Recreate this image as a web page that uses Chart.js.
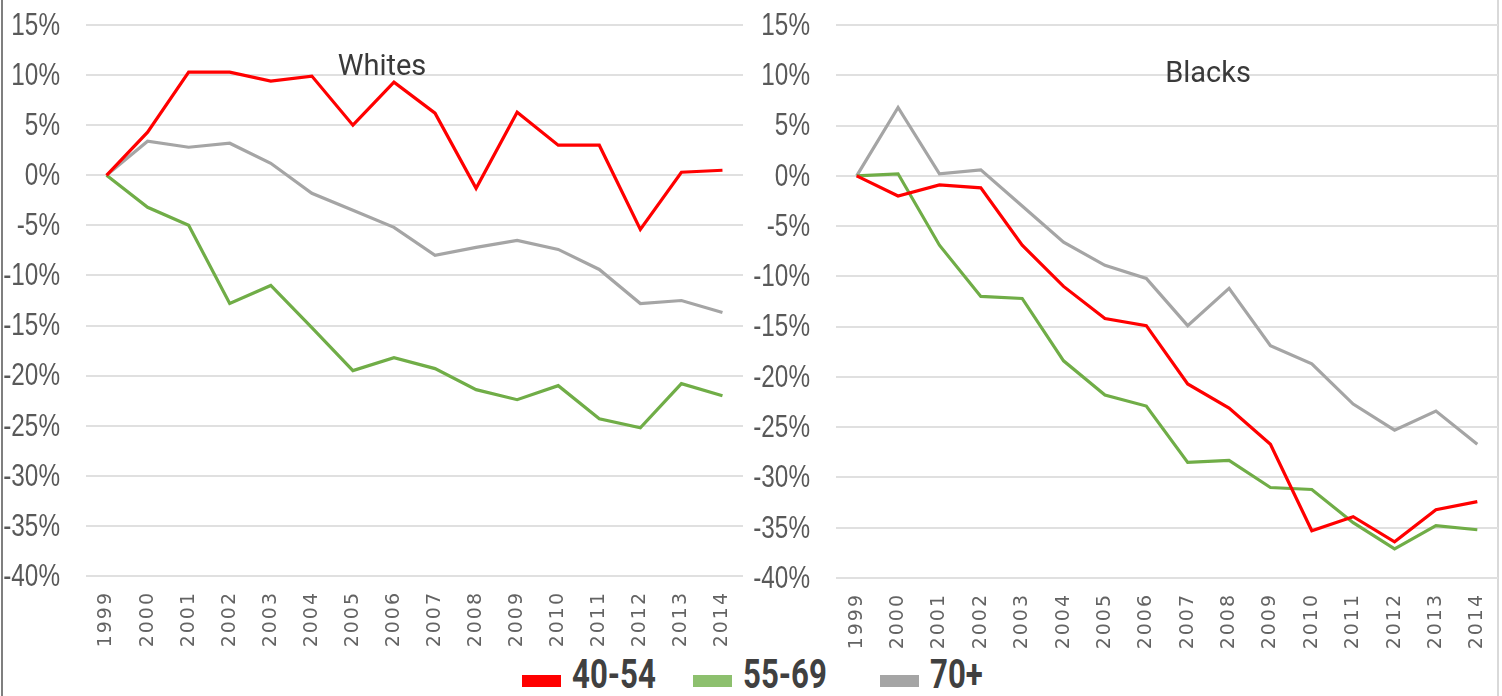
<!DOCTYPE html>
<html>
<head>
<meta charset="utf-8">
<script src="https://cdn.jsdelivr.net/npm/chart.js@4/dist/chart.umd.min.js"></script>
<style>
  body { margin: 0; background: #fff; }
  #page { position: relative; width: 1502px; height: 696px; overflow: hidden; }
  #leftLine { position: absolute; left: 1px; top: 0; width: 2px; height: 696px; background: #7f7f7f; }
  #rightLine { position: absolute; left: 1497px; top: 0; width: 2px; height: 696px; background: #d9d9d9; }
  #whites { position: absolute; left: 0; top: 0; }
  #blacks { position: absolute; left: 750px; top: 0; }
  #legend { position: absolute; left: 0; top: 652px; width: 1502px; height: 44px; }
  .item { position: absolute; top: 0; height: 44px; }
  .swatch { position: absolute; left: 0; top: 23px; width: 39px; height: 12px; }
  .label { position: absolute; top: 0; left: 50px; white-space: nowrap; font-family: Roboto, sans-serif; font-weight: bold;
           font-size: 41px; line-height: 44px; color: #404040; transform: scaleX(0.76); transform-origin: left top; }
</style>
</head>
<body>
<div id="page">
  <div id="leftLine"></div>
  <div id="rightLine"></div>
  <canvas id="whites" width="750" height="650"></canvas>
  <canvas id="blacks" width="752" height="650"></canvas>
  <div id="legend"></div>
</div>
<script>
const years = ['1999', '2000', '2001', '2002', '2003', '2004', '2005', '2006',
               '2007', '2008', '2009', '2010', '2011', '2012', '2013', '2014'];
const seriesNames = ['40-54', '55-69', '70+'];
const seriesColors = ['#ff0000', '#70ad47', '#a5a5a5'];
const legendColors = ['#ff0000', '#8dc06e', '#a5a5a5'];

// percent change since 1999
const whites4054 = [0, 4.3, 10.3, 10.3, 9.4, 9.9, 5.0, 9.3, 6.2, -1.3, 6.3, 3.0, 3.0, -5.4, 0.3, 0.5];
const whites5569 = [0, -3.2, -5.0, -12.8, -11.0, -15.2, -19.5, -18.2, -19.3, -21.4, -22.4, -21.0, -24.3, -25.2, -20.8, -22.0];
const whites70 = [0, 3.4, 2.8, 3.2, 1.2, -1.8, -3.5, -5.2, -8.0, -7.2, -6.5, -7.4, -9.4, -12.8, -12.5, -13.7];

const blacks4054 = [0, -2.0, -0.9, -1.2, -6.9, -11.0, -14.2, -14.9, -20.7, -23.1, -26.7, -35.3, -33.9, -36.4, -33.2, -32.4];
const blacks5569 = [0, 0.2, -6.9, -12.0, -12.2, -18.4, -21.8, -22.9, -28.5, -28.3, -31.0, -31.2, -34.5, -37.1, -34.8, -35.2];
const blacks70 = [0, 6.8, 0.2, 0.6, -3.0, -6.6, -8.9, -10.2, -14.9, -11.2, -16.9, -18.7, -22.7, -25.3, -23.4, -26.7];

const yMin = -40, yMax = 15, yStep = 5;

// narrow tick labels (no condensed font installed, so squeeze them)
const axisLabels = {
  id: 'axisLabels',
  afterDraw(chart) {
    const ctx = chart.ctx;
    const area = chart.chartArea;
    const ys = chart.scales.y;
    const xs = chart.scales.x;

    ctx.save();
    ctx.fillStyle = '#595959';
    ctx.font = '32px "Liberation Sans", Arial, sans-serif';
    ctx.textAlign = 'right';
    ctx.textBaseline = 'middle';
    ys.ticks.forEach(t => {
      const y = ys.getPixelForValue(t.value);
      ctx.save();
      ctx.translate(area.left - 26, y + 1);
      ctx.scale(0.76, 1);
      ctx.fillText(t.value + '%', 0, 0);
      ctx.restore();
    });

    ctx.fillStyle = '#636363';
    ctx.font = '19px "DejaVu Sans", sans-serif';
    ctx.letterSpacing = '2px';
    ctx.textAlign = 'right';
    ctx.textBaseline = 'middle';
    xs.ticks.forEach((t, i) => {
      const x = xs.getPixelForTick(i);
      ctx.save();
      ctx.translate(x, area.bottom + 15);
      ctx.rotate(-Math.PI / 2);
      ctx.fillText(xs.getLabelForValue(t.value), 0, 0);
      ctx.restore();
    });
    ctx.restore();
  }
};

// panel name inside the plot area
const panelTitle = {
  id: 'panelTitle',
  afterDraw(chart, args, opts) {
    const ctx = chart.ctx;
    ctx.save();
    ctx.font = '29px Roboto, sans-serif';
    ctx.fillStyle = '#3a3a3a';
    ctx.textAlign = 'center';
    ctx.textBaseline = 'alphabetic';
    ctx.fillText(opts.text, opts.x, opts.y);
    ctx.restore();
  }
};

function makeChart(id, title, titleX, titleY, values, padRight, xHeight) {
  const ctx = document.getElementById(id).getContext('2d');
  return new Chart(ctx, {
    type: 'line',
    data: {
      labels: years,
      datasets: values.map((v, i) => ({
        label: seriesNames[i],
        data: v,
        borderColor: seriesColors[i],
        backgroundColor: seriesColors[i],
        borderWidth: 3.2,
        pointRadius: 0,
        tension: 0,
        fill: false
      }))
    },
    options: {
      responsive: false,
      animation: false,
      layout: { padding: { top: 25, right: padRight, left: 0, bottom: 0 } },
      plugins: {
        legend: { display: false },
        tooltip: { enabled: false },
        panelTitle: { text: title, x: titleX, y: titleY }
      },
      scales: {
        x: {
          offset: true,
          grid: { display: false },
          border: { display: false },
          ticks: { display: false },
          afterFit(scale) { scale.height = xHeight; }
        },
        y: {
          min: yMin,
          max: yMax,
          grid: { color: '#e0e0e0', lineWidth: 2, drawTicks: false },
          border: { display: false },
          ticks: { stepSize: yStep, display: false },
          afterFit(scale) { scale.width = 86; }
        }
      }
    },
    plugins: [axisLabels, panelTitle]
  });
}

makeChart('whites', 'Whites', 382, 75, [whites4054, whites5569, whites70], 7, 74);
makeChart('blacks', 'Blacks', 458, 82, [blacks4054, blacks5569, blacks70], 4, 72);

// legend under both panels
const legendLeft = [522, 693, 880];
const legend = document.getElementById('legend');
seriesNames.forEach((name, i) => {
  const item = document.createElement('div');
  item.className = 'item';
  item.style.left = legendLeft[i] + 'px';
  const sw = document.createElement('div');
  sw.className = 'swatch';
  sw.style.background = legendColors[i];
  const label = document.createElement('span');
  label.className = 'label';
  label.textContent = name;
  item.appendChild(sw);
  item.appendChild(label);
  legend.appendChild(item);
});
</script>
</body>
</html>
